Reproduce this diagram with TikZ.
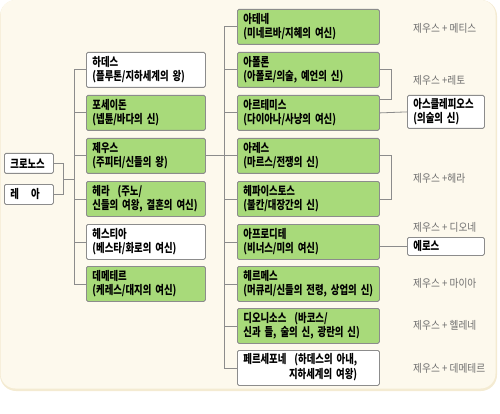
\documentclass[tikz,border=0pt]{standalone}
\usepackage{fontspec}
\usetikzlibrary{calc}
\newfontfamily\kr[FakeStretch=0.78]{Noto Sans CJK KR}
\newfontfamily\krl[FakeStretch=0.88]{Noto Sans CJK KR}
\definecolor{bg}{RGB}{253,249,237}
\definecolor{bgedge}{RGB}{244,235,210}
\definecolor{gfill}{RGB}{168,218,122}
\definecolor{lcol}{RGB}{140,140,140}
\definecolor{tcol}{RGB}{110,110,110}
\tikzset{
  box/.style={draw=lcol, line width=0.8pt, fill=white, rounded corners=1.5pt,
    anchor=north west, inner xsep=6pt, inner ysep=0pt, align=left,
    font=\kr\bfseries\fontsize{12}{14}\selectfont, text=black},
  gbox/.style={box, fill=gfill},
  lbox/.style={minimum width=119pt, text width=107pt, minimum height=35pt},
  rbox/.style={minimum width=142pt, text width=130pt, minimum height=35pt},
  conn/.style={draw=lcol, line width=0.8pt},
  lab/.style={anchor=west, text=tcol, font=\krl\fontsize{11}{12}\selectfont, inner sep=0pt}
}
\begin{document}
\begin{tikzpicture}[x=1pt,y=-1pt]
\useasboundingbox (0,0) rectangle (500,414);
\fill[bgedge, rounded corners=16pt] (0,0) rectangle (497,391);
\fill[bg, rounded corners=15pt] (0.5,0) rectangle (495.5,388.5);

% left column
\node[box, lbox] (hades) at (86,52) {하데스\\(플루톤/지하세계의 왕)};
\node[gbox, lbox] (poseidon) at (86,95) {포세이돈\\(넵튠/바다의 신)};
\node[gbox, lbox] (zeus) at (86,138) {제우스\\(주피터/신들의 왕)};
\node[gbox, lbox] (hera) at (86,181) {헤라 \ (주노/\\신들의 여왕, 결혼의 여신)};
\node[box, lbox] (hestia) at (86,224) {헤스티아\\(베스타/화로의 여신)};
\node[gbox, lbox] (demeter) at (86,266) {데메테르\\(케레스/대지의 여신)};

% parents
\node[box, minimum width=49pt, text width=37pt, minimum height=20pt] (kronos) at (4,153) {크로노스};
\node[box, minimum width=49pt, text width=37pt, minimum height=20pt] (rhea) at (4,184) {레\quad 아};

% right column
\node[gbox, rbox] (athena) at (237,9) {아테네\\(미네르바/지혜의 여신)};
\node[gbox, rbox] (apollo) at (237,52) {아폴론\\(아폴로/의술, 예언의 신)};
\node[gbox, rbox] (artemis) at (237,95) {아르테미스\\(다이아나/사냥의 여신)};
\node[gbox, rbox] (ares) at (237,138) {아레스\\(마르스/전쟁의 신)};
\node[gbox, rbox] (hephaestus) at (237,181) {헤파이스토스\\(불칸/대장간의 신)};
\node[gbox, rbox] (aphrodite) at (237,224) {아프로디테\\(비너스/미의 여신)};
\node[gbox, rbox] (hermes) at (237,266) {헤르메스\\(머큐리/신들의 전령, 상업의 신)};
\node[gbox, rbox] (dionysus) at (237,308) {디오니소스 \ (바코스/\\신과 들, 술의 신, 광란의 신)};
\node[box, rbox] (persephone) at (237,350) {\begin{tabular}{@{}r@{}}페르세포네 \ (하데스의 아내,\\지하세계의 여왕)\end{tabular}};

% children of children
\node[box, minimum width=77pt, text width=65pt, minimum height=33pt] (asclepius) at (407,95) {아스클레피오스\\(의술의 신)};
\node[box, minimum width=77pt, text width=65pt, minimum height=18pt] (eros) at (407,237) {에로스};

% coordinates
\coordinate (L) at (74,0);
\coordinate (R) at (224,0);
\coordinate (KR) at (63,0);
\coordinate (B) at (391,0);

% connectors left
\draw[conn] (kronos.east) -- (kronos.east -| KR) -- (rhea.east -| KR) -- (rhea.east);
\coordinate (kmid) at ($(kronos.east -| KR)!0.5!(rhea.east -| KR)$);
\draw[conn] (kmid) -- (kmid -| L);
\foreach \n in {hades,poseidon,zeus,hera,hestia,demeter}
  \draw[conn] (\n.west) -- (\n.west -| L);
\draw[conn] (hades.west -| L) -- (demeter.west -| L);

% connectors right
\draw[conn] (zeus.east) -- (zeus.east -| R);
\foreach \n in {athena,apollo,artemis,ares,hephaestus,aphrodite,hermes,dionysus,persephone}
  \draw[conn] (\n.west) -- (\n.west -| R);
\draw[conn] (athena.west -| R) -- (persephone.west -| R);

% brackets
\draw[conn] (apollo.east) -- (apollo.east -| B) -- ($(artemis.north east -| B)+(0,4)$) -- ($(artemis.north east)+(0,4)$);
\draw[conn] (artemis.east) -- (asclepius.west);
\draw[conn] (ares.east) -- (ares.east -| B) -- (hephaestus.east -| B) -- (hephaestus.east);
\draw[conn] (aphrodite.east |- eros.west) -- (eros.west);

% labels
\node[lab] (l1) at (413,28) {제우스 + 메티스};
\node[lab] (l2) at (413,80) {제우스 +레토};
\node[lab] (l3) at (413,178) {제우스 +헤라};
\node[lab] (l4) at (413,227) {제우스 + 디오네};
\node[lab] (l5) at (413,283) {제우스 + 마이아};
\node[lab] (l6) at (413,325) {제우스 + 헬레네};
\node[lab] (l7) at (413,368) {제우스 + 데메테르};
\end{tikzpicture}
\end{document}
